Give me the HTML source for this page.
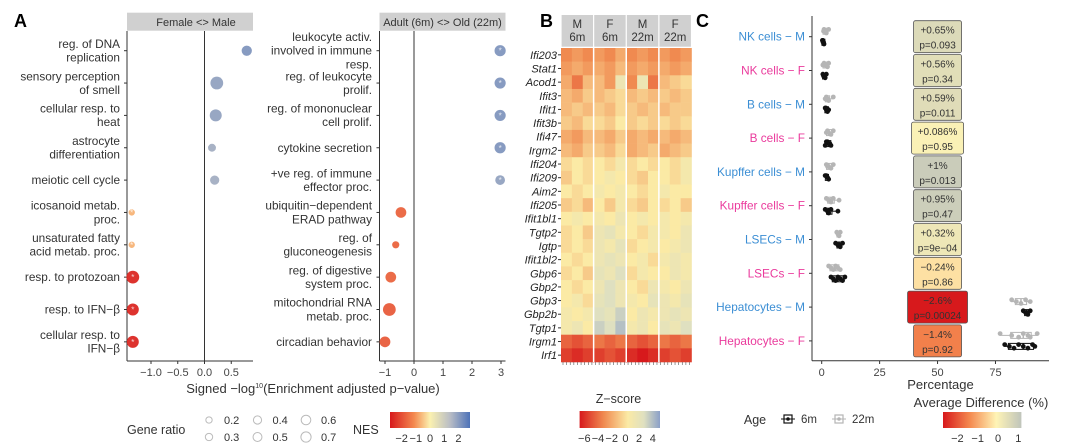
<!DOCTYPE html>
<html><head><meta charset="utf-8"><style>
body{margin:0;background:#fff}
svg{display:block;font-family:"Liberation Sans",sans-serif}
</style></head><body>
<svg id="s" width="1080" height="446" viewBox="0 0 1080 446" xmlns="http://www.w3.org/2000/svg">
<defs>
<linearGradient id="gNES" x1="0" x2="1"><stop offset="0" stop-color="#d7191c"/><stop offset="0.3" stop-color="#f4894f"/><stop offset="0.5" stop-color="#fbf1b0"/><stop offset="0.75" stop-color="#b9bdc5"/><stop offset="1" stop-color="#4d72b8"/></linearGradient>
<linearGradient id="gZ" x1="0" x2="1"><stop offset="0" stop-color="#d7191c"/><stop offset="0.3" stop-color="#f08a50"/><stop offset="0.6" stop-color="#fbeaa5"/><stop offset="0.8" stop-color="#dfe0c0"/><stop offset="1" stop-color="#8ba0c8"/></linearGradient>
<linearGradient id="gD" x1="0" x2="1"><stop offset="0" stop-color="#d7191c"/><stop offset="0.34" stop-color="#f4894f"/><stop offset="0.68" stop-color="#fff4b6"/><stop offset="1" stop-color="#bfc4bb"/></linearGradient>
</defs>
<g id="A"></g><g id="B"></g><g id="C"></g>
</svg>
<script>
// ---------- Panel A data ----------
const sexTerms=[["reg. of DNA","replication"],["sensory perception","of smell"],["cellular resp. to","heat"],["astrocyte","differentiation"],["meiotic cell cycle"],["icosanoid metab.","proc."],["unsaturated fatty","acid metab. proc."],["resp. to protozoan"],["resp. to IFN−β"],["cellular resp. to","IFN−β"]];
const sexValues=[0.79,0.23,0.21,0.14,0.19,-1.36,-1.36,-1.34,-1.34,-1.34];
const sexNES=[1.9,1.7,1.7,1.5,1.5,-0.6,-0.6,-2.3,-2.3,-2.3];
const sexRatio=[0.4,0.7,0.6,0.2,0.3,0.1,0.1,0.7,0.6,0.6];
const ageTerms=[["leukocyte activ.","involved in immune","resp."],["reg. of leukocyte","prolif."],["reg. of mononuclear","cell prolif."],["cytokine secretion"],["+ve reg. of immune","effector proc."],["ubiquitin−dependent","ERAD pathway"],["reg. of","gluconeogenesis"],["reg. of digestive","system proc."],["mitochondrial RNA","metab. proc."],["circadian behavior"]];
const ageValues=[2.97,2.97,2.97,2.97,2.97,-0.45,-0.63,-0.8,-0.85,-1.0];
const ageNES=[1.9,1.9,1.9,1.9,1.7,-1.5,-1.5,-1.5,-1.6,-1.6];
const ageRatio=[0.5,0.5,0.5,0.5,0.35,0.45,0.15,0.45,0.7,0.45];
const sexTicks=[-1.0,-0.5,0.0,0.5];
const ageTicks=[-1,0,1,2,3];
// ---------- Panel B data ----------
const genes=["Ifi203","Stat1","Acod1","Ifit3","Ifit1","Ifit3b","Ifi47","Irgm2","Ifi204","Ifi209","Aim2","Ifi205","Ifit1bl1","Tgtp2","Igtp","Ifit1bl2","Gbp6","Gbp2","Gbp3","Gbp2b","Tgtp1","Irgm1","Irf1"];
const groups=[["M","6m"],["F","6m"],["M","22m"],["F","22m"]];
const zRows=[
[-3,-2.5,-3,-2.5,-3,-2,-3,-2.5,-3,-2.5,-3,-2.5],
[-2.5,-2,-2.5,-2,-2.5,-1.5,-2.5,-2,-2.5,-2,-2.5,-2],
[-2,-3.5,-1.5,-1.5,-2.5,1,-3,1,-3.5,-1.5,-1,-0.5],
[-1.5,-2,-1,-1.5,-1,-0.5,-1.5,-1,-1.5,-1,-1.5,-1],
[-1.5,-1,-1.5,-1,-1.5,-0.5,-1,-1.5,-1,-1.5,-1,-1],
[-1,-1.5,-0.5,-0.5,-1,0,-1,-0.5,-1,-0.5,-1,-0.5],
[-2,-2.5,-1.5,-1.5,-2,-1,-2,-1.5,-2,-1.5,-2,-1.5],
[-1.5,-2,-1,-1,-1.5,-0.5,-2,-1.5,-1,-2,-1.5,-1],
[-0.5,0,-0.5,0,-0.5,0.5,-0.5,0,-0.5,0,-0.5,0.5],
[-1,0,-0.5,0,0.5,0,-0.5,-1,0,0,-0.5,0.5],
[0,-0.5,0,0.5,0,0.5,0,-0.5,0,0.5,0,0],
[-1,-0.5,-1.5,0,-1,0.5,-0.5,-1,0,-0.5,0,-1],
[0,0.5,0,0.5,0,1,0,0.5,0,0.5,0,0.5],
[-0.5,0,-1,1,1.5,0.5,0,-0.5,0.5,0.5,0,1],
[-0.5,0,-0.5,1,0.5,1.5,-0.5,0,0.5,0,0.5,1],
[0,-0.5,0,1,1.5,1,0,0.5,-0.5,0.5,1,0.5],
[-0.5,0,-1,1.5,1,2,-0.5,0.5,0,0,1,0.5],
[0,-0.5,0,1,2,1,0,-0.5,1,0.5,0,1],
[0,0.5,-0.5,1.5,2,1,0.5,0,1.5,1,0.5,1.5],
[0.5,0,0.5,2,1.5,2.5,0,1,0.5,1,1.5,1],
[0.5,1,0,2.5,2,3,0.5,1,0,1.5,1,2],
[-4,-4.5,-4,-3.5,-4,-3.5,-4,-4.5,-4,-3.5,-4,-3.5],
[-5,-5.5,-5,-5,-4.5,-5,-5.5,-6,-5.5,-5,-4.5,-5]];
const zTicks=[-6,-4,-2,0,2,4];
// ---------- Panel C data ----------
const cellTypes=["NK cells − M","NK cells − F","B cells − M","B cells − F","Kupffer cells − M","Kupffer cells − F","LSECs − M","LSECs − F","Hepatocytes − M","Hepatocytes − F"];
const pct6m=[[0.5,0.8,1,0.3,0.6],[0.5,1,1.5,2,0.8],[1.5,2,2.5,1.8,3],[2,3,4,2.5,3.5,1.5],[2,2.5,3,1.5],[1.5,2.5,3,4,7],[6,7,8,9,7.5],[4,5,6,7,8,9,10],[87,88,89,90,88.5],[79,81,83,85,87,89,91,92]];
const pct22m=[[1,1.5,2,3,0.8],[1,1.5,2.5,3,0.5],[2,2.5,3,5,1.5],[2.5,3,4,5,2],[2,3,4,5,2.5],[2,3,4,5,7.5],[6.5,7,7.5,8],[3,4,5,6,7,8],[82,84,86,88,90],[77,82,85,87,89,90,93]];
const avgDiff=[0.65,0.56,0.59,0.086,1,0.95,0.32,-0.24,-2.6,-1.4];
const diffLabels=["+0.65%","+0.56%","+0.59%","+0.086%","+1%","+0.95%","+0.32%","−0.24%","−2.6%","−1.4%"];
const pLabels=["p=0.093","p=0.34","p=0.011","p=0.95","p=0.013","p=0.47","p=9e−04","p=0.86","p=0.00024","p=0.92"];
const pctTicks=[0,25,50,75];
const diffTicks=[-2,-1,0,1];

const NS="http://www.w3.org/2000/svg";
function mk(parent,tag,attrs,text){const e=document.createElementNS(NS,tag);for(const k in attrs)e.setAttribute(k,attrs[k]);if(text!==undefined)e.textContent=text;parent.appendChild(e);return e;}
function hex(h){return [parseInt(h.slice(1,3),16),parseInt(h.slice(3,5),16),parseInt(h.slice(5,7),16)];}
function scaleColor(stops,v){if(v<=stops[0][0])return stops[0][1];for(let i=1;i<stops.length;i++){if(v<=stops[i][0]){const t=(v-stops[i-1][0])/(stops[i][0]-stops[i-1][0]);const a=hex(stops[i-1][1]),b=hex(stops[i][1]);return `rgb(${a.map((x,j)=>Math.round(x+(b[j]-x)*t)).join(',')})`;}}return stops[stops.length-1][1];}
const nesStops=[[-2.5,"#d7191c"],[-1,"#f4894f"],[0,"#fbf1b0"],[1.25,"#b9bdc5"],[2.5,"#4d72b8"]];
const zStops=[[-6,"#d7191c"],[-3,"#f08a50"],[0,"#fbeaa5"],[2,"#dfe0c0"],[4,"#8ba0c8"]];
const dStops=[[-2.6,"#d7191c"],[-1.3,"#f4894f"],[0,"#fff4b6"],[1.2,"#bfc4bb"]];
const rowY=i=>50.7+i*32.35;
const rScale=r=>1.2+Math.sqrt(r)*6.2;

// ---------- Panel A ----------
const A=document.getElementById('A');
let t=mk(A,'text',{x:14,y:27,'font-size':18,'font-weight':'bold'},'A');


function dotPanel(g,x0,x1,x2s,ticks,fmt,terms,vals,nes,ratio,labelX,strip,name,star){
  const xs=v=>x2s(v);
  let s=mk(g,'rect',{x:x0,y:12.7,width:x1-x0,height:18,fill:'#d0d0d0'});
  
  
  let st=mk(g,'text',{x:(x0+x1)/2+(star?0:6),y:26,'font-size':11,'text-anchor':'middle',fill:'#333'},strip);
  
  
  mk(g,'line',{x1:x0,y1:31,x2:x0,y2:361,stroke:'#333','stroke-width':1});
  mk(g,'line',{x1:x0,y1:361,x2:x1,y2:361,stroke:'#333','stroke-width':1});
  mk(g,'line',{x1:xs(0),y1:31,x2:xs(0),y2:361,stroke:'#333','stroke-width':1});
  ticks.forEach(v=>{mk(g,'line',{x1:xs(v),y1:361,x2:xs(v),y2:364,stroke:'#333'});
    let tl=mk(g,'text',{x:xs(v),y:376,'font-size':11,'text-anchor':'middle',fill:'#444'},fmt(v));
    
    });
  terms.forEach((lines,i)=>{const y=rowY(i);
    mk(g,'line',{x1:x0-3,y1:y,x2:x0,y2:y,stroke:'#333'});
    const lh=13.6,start=y-(lines.length-1)*lh/2+4;
    const tt=mk(g,'text',{'font-size':11.8,'text-anchor':'end',fill:'#333'});
    
    
    lines.forEach((l,j)=>mk(tt,'tspan',{x:labelX,y:start+j*lh},l));
    const c=mk(g,'circle',{cx:xs(vals[i]),cy:y,r:rScale(ratio[i]),fill:scaleColor(nesStops,nes[i]),opacity:0.95});
    
    
    if(Math.abs(vals[i])>1.3){let sx=mk(g,'text',{x:xs(vals[i]),y:y+3,'font-size':8,'text-anchor':'middle',fill:'#fff',opacity:0.8},'*');
      
      }
  });
}
dotPanel(A,127,253,v=>204.5+v*53.5,sexTicks,v=>v.toFixed(1).replace('-','−'),sexTerms,sexValues,sexNES,sexRatio,120,'Female <> Male','sex',false);
dotPanel(A,379.5,505.5,v=>414+v*29,ageTicks,v=>String(v).replace('-','−'),ageTerms,ageValues,ageNES,ageRatio,372,'Adult (6m) <> Old (22m)','age',true);
t=mk(A,'text',{x:313,y:393,'font-size':13,'text-anchor':'middle',fill:'#333'});


mk(t,'tspan',{},'Signed −log');mk(t,'tspan',{'font-size':7,dy:-5},'10');mk(t,'tspan',{dy:5},'(Enrichment adjusted p−value)');
t=mk(A,'text',{x:127,y:434,'font-size':12.5,fill:'#333'},'Gene ratio');


const gr=[0.2,0.3,0.4,0.5,0.6,0.7];
gr.forEach((v,i)=>{const cx=209+Math.floor(i/2)*48.5,cy=i%2?437:420;
  const c=mk(A,'circle',{cx:cx,cy:cy,r:rScale(v)*0.8,fill:'none',stroke:'#bbb'});
  
  
  const l=mk(A,'text',{x:cx+15,y:cy+4,'font-size':11,fill:'#333'},v.toFixed(1));
  
  });
t=mk(A,'text',{x:353,y:434,'font-size':12.5,fill:'#333'},'NES');


t=mk(A,'rect',{x:390,y:412,width:80,height:16,fill:'url(#gNES)'});


[-2,-1,0,1,2].forEach(v=>{const x=430+v*14.2;
  const l=mk(A,'text',{x:x,y:442,'font-size':11,'text-anchor':'middle',fill:'#333'},String(v).replace('-','−'));
  
  });

// ---------- Panel B ----------
const B=document.getElementById('B');
t=mk(B,'text',{x:540,y:27,'font-size':18,'font-weight':'bold'},'B');


const hx0=561,hx1=691.5,hy0=48,hy1=362;
const gw=(hx1-hx0)/groups.length,perG=zRows[0].length/groups.length,cw=gw/perG,rh=(hy1-hy0)/genes.length;
groups.forEach((g,i)=>{const r=mk(B,'rect',{x:hx0+i*gw+0.6,y:15,width:gw-1.2,height:31.7,fill:'#d0d0d0'});
  
  
  const tx=mk(B,'text',{'font-size':11.5,'text-anchor':'middle',fill:'#333'});
  
  
  mk(tx,'tspan',{x:hx0+(i+0.5)*gw,y:28},g[0]);mk(tx,'tspan',{x:hx0+(i+0.5)*gw,y:41},g[1]);});
zRows.forEach((row,ri)=>{row.forEach((v,ci)=>{
  const c=mk(B,'rect',{x:hx0+ci*cw,y:hy0+ri*rh,width:cw+0.3,height:rh+0.3,fill:scaleColor(zStops,v)});
  
  });
  const y=hy0+(ri+0.5)*rh;
  mk(B,'line',{x1:hx0-3,y1:y,x2:hx0,y2:y,stroke:'#333'});
  const l=mk(B,'text',{x:hx0-4,y:y+4,'font-size':11,'font-style':'italic','text-anchor':'end',fill:'#222'},genes[ri]);
  
  });
for(let i=1;i<groups.length;i++)mk(B,'line',{x1:hx0+i*gw,y1:hy0,x2:hx0+i*gw,y2:hy1,stroke:'#fff','stroke-width':1.5});
for(let i=0;i<36;i++){const x=hx0+2+i*(hx1-hx0-4)/35;mk(B,'line',{x1:x,y1:hy1,x2:x,y2:hy1+3,stroke:'#555','stroke-width':0.6});}
t=mk(B,'text',{x:618.5,y:403,'font-size':12.5,'text-anchor':'middle',fill:'#333'},'Z−score');


t=mk(B,'rect',{x:579.6,y:411,width:80.4,height:17,fill:'url(#gZ)'});


zTicks.forEach(v=>{const x=625.4+v*6.85;
  const l=mk(B,'text',{x:x,y:442,'font-size':11,'text-anchor':'middle',fill:'#333'},String(v).replace('-','−'));
  
  });

// ---------- Panel C ----------
const C=document.getElementById('C');
t=mk(C,'text',{x:696,y:27,'font-size':18,'font-weight':'bold'},'C');


const px=v=>821.7+v*2.317, cy=i=>36.7+i*33.8;
mk(C,'line',{x1:812,y1:16,x2:812,y2:360.7,stroke:'#333'});
mk(C,'line',{x1:812,y1:360.7,x2:1049,y2:360.7,stroke:'#333'});
pctTicks.forEach(v=>{mk(C,'line',{x1:px(v),y1:360.7,x2:px(v),y2:364,stroke:'#333'});
  const l=mk(C,'text',{x:px(v),y:376,'font-size':11,'text-anchor':'middle',fill:'#444'},String(v));
  
  });
cellTypes.forEach((n,i)=>{const y=cy(i);
  mk(C,'line',{x1:809,y1:y,x2:812,y2:y,stroke:'#333'});
  const l=mk(C,'text',{x:805,y:y+4,'font-size':11.8,'text-anchor':'end',fill:/M$/.test(n)?'#3b8ed4':'#ea3a9c'},n);
  
  
  [[pct22m[i],-5.5,'#b5b5b5'],[pct6m[i],5.5,'#111']].forEach(([arr,off,col])=>{
    const sorted=arr.slice().sort((a,b)=>a-b),med=sorted[Math.floor(sorted.length/2)];
    mk(C,'line',{x1:px(sorted[0]),y1:y+off,x2:px(sorted[sorted.length-1]),y2:y+off,stroke:col,'stroke-width':1});
    const bx=mk(C,'rect',{x:px(sorted[1])-1,y:y+off-3,width:Math.max(3,px(sorted[sorted.length-2])-px(sorted[1])+2),height:6,fill:'#fff',stroke:col,'stroke-width':1});
    
    
    arr.forEach((v,k)=>{const d=mk(C,'circle',{cx:px(v),cy:y+off+((k%3)-1)*1.8,r:2.4,fill:col});
      
      });
    mk(C,'line',{x1:px(med),y1:y+off-3,x2:px(med),y2:y+off+3,stroke:col,'stroke-width':1.5});
  });
  const w=Math.abs(avgDiff[i])>2?60:(diffLabels[i].length>6?52:48);
  const b=mk(C,'rect',{x:px(50)-w/2,y:y-16,width:w,height:32,rx:2,fill:scaleColor(dStops,avgDiff[i]),stroke:'#555','stroke-width':0.8});
  
  
  const tl=mk(C,'text',{'font-size':10,'text-anchor':'middle',fill:'#333'});
  
  
  mk(tl,'tspan',{x:px(50),y:y-3},diffLabels[i]);mk(tl,'tspan',{x:px(50),y:y+12},pLabels[i]);
});
t=mk(C,'text',{x:940.5,y:389,'font-size':13,'text-anchor':'middle',fill:'#333'},'Percentage');


t=mk(C,'text',{x:981,y:407,'font-size':13,'text-anchor':'middle',fill:'#333'},'Average Difference (%)');


t=mk(C,'rect',{x:943,y:412,width:78.4,height:16,fill:'url(#gD)'});


diffTicks.forEach(v=>{const l=mk(C,'text',{x:998+v*20.3,y:442,'font-size':11,'text-anchor':'middle',fill:'#333'},String(v).replace('-','−'));
  
  });
t=mk(C,'text',{x:755,y:424,'font-size':12.5,'text-anchor':'middle',fill:'#333'},'Age');


[[788,'#111','6m',801],[839,'#b5b5b5','22m',852]].forEach(([x,col,lab,tx])=>{
  const k=mk(C,'rect',{x:x-4,y:415,width:8,height:8,fill:'#fff',stroke:col,'stroke-width':1.2});
  
  
  mk(C,'line',{x1:x-7,y1:419,x2:x+7,y2:419,stroke:col});mk(C,'circle',{cx:x,cy:419,r:1.8,fill:col});
  const l=mk(C,'text',{x:tx,y:423,'font-size':11.5,fill:'#333'},lab);
  
  });
</script>
</body></html>
